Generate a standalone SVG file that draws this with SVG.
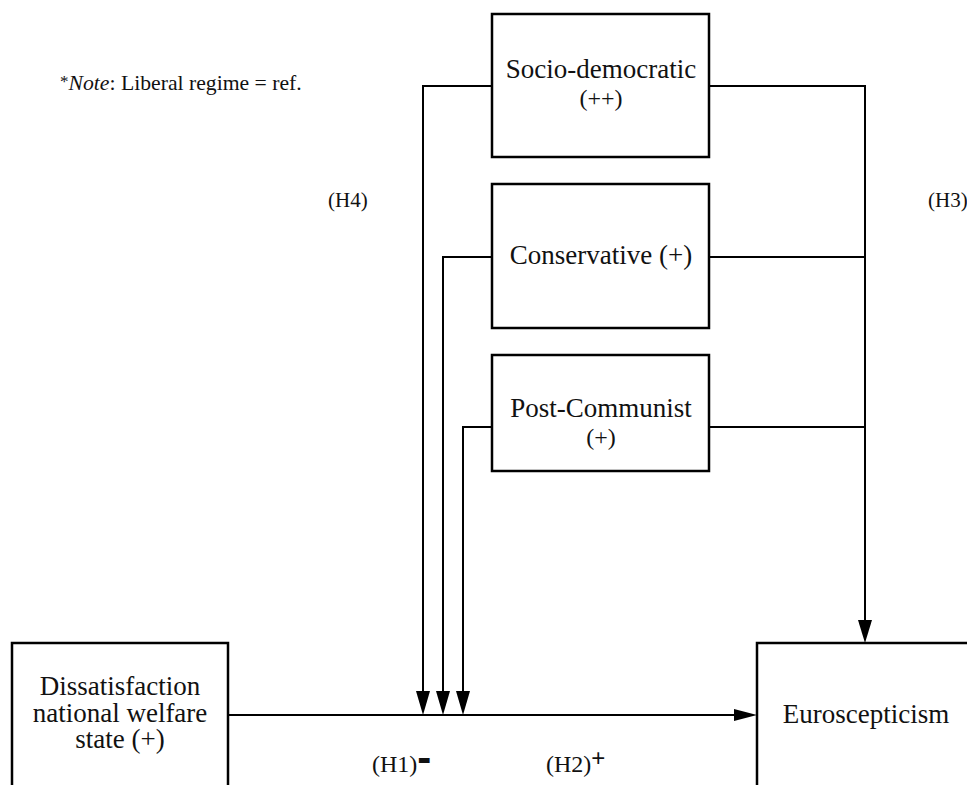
<svg xmlns="http://www.w3.org/2000/svg" width="967" height="785" viewBox="0 0 967 785" font-family="'Liberation Serif', 'DejaVu Serif', serif">
<style>
.box{fill:#fff;stroke:#000;stroke-width:2.5}
.ln{fill:none;stroke:#000;stroke-width:2}
.ah{fill:#000}
.t{font-family:'Liberation Serif', 'DejaVu Serif', serif;fill:#111;font-size:27px;text-anchor:middle}
.sm{font-size:21.7px;text-anchor:start}
.lab{font-size:21px;text-anchor:start}
.big{font-size:24px;text-anchor:start}
.sans{font-family:'Liberation Sans', sans-serif}
</style>
<rect width="967" height="785" fill="#fff"/>
<text class="t sm" x="60" y="90"><tspan font-size="17" dy="-3">*</tspan><tspan font-style="italic" dy="3">Note</tspan>: Liberal regime = ref.</text>
<g id="connectors">
<polyline class="ln" points="492,86 423,86 423,700"/>
<path class="ah" d="M416,691 L430,691 L423,715 Z"/>
<polyline class="ln" points="492,257 443,257 443,700"/>
<path class="ah" d="M436,691 L450,691 L443,715 Z"/>
<polyline class="ln" points="492,427 463,427 463,700"/>
<path class="ah" d="M456,691 L470,691 L463,715 Z"/>
<polyline class="ln" points="709,86 865,86 865,630"/>
<path class="ah" d="M858,620 L872,620 L865,643 Z"/>
<line class="ln" x1="709" y1="257" x2="865" y2="257"/>
<line class="ln" x1="709" y1="427" x2="865" y2="427"/>
<line class="ln" x1="228" y1="715" x2="740" y2="715"/>
<path class="ah" d="M734,709 L757,715 L734,721 Z"/>
</g>
<g id="socio">
<rect class="box" x="492" y="14" width="217" height="143"/>
<text class="t" x="601" y="78">Socio-democratic</text>
<text class="t" x="601" y="106" style="font-size:24px">(++)</text>
</g>
<g id="conservative">
<rect class="box" x="492" y="184" width="217" height="144"/>
<text class="t" x="601" y="264">Conservative (+)</text>
</g>
<g id="postcommunist">
<rect class="box" x="492" y="355" width="217" height="116"/>
<text class="t" x="601" y="417">Post-Communist</text>
<text class="t" x="601" y="445" style="font-size:24px">(+)</text>
</g>
<g id="dissatisfaction">
<rect class="box" x="12" y="643" width="216" height="150"/>
<text class="t" x="120" y="695">Dissatisfaction<tspan x="120" y="722">national welfare</tspan><tspan x="120" y="748">state (+)</tspan></text>
</g>
<g id="euroscepticism">
<rect class="box" x="757" y="643" width="220" height="150"/>
<text class="t" x="866" y="723">Euroscepticism</text>
</g>
<g id="labels">
<text class="t lab" x="328" y="207">(H4)</text>
<text class="t lab" x="928" y="207">(H3)</text>
<text class="t big" x="372" y="772">(H1)<tspan class="sans" font-size="42" font-weight="bold">-</tspan></text>
<text class="t big" x="546" y="772">(H2)<tspan class="sans" font-size="24" dy="-6">+</tspan></text>
</g>
</svg>
